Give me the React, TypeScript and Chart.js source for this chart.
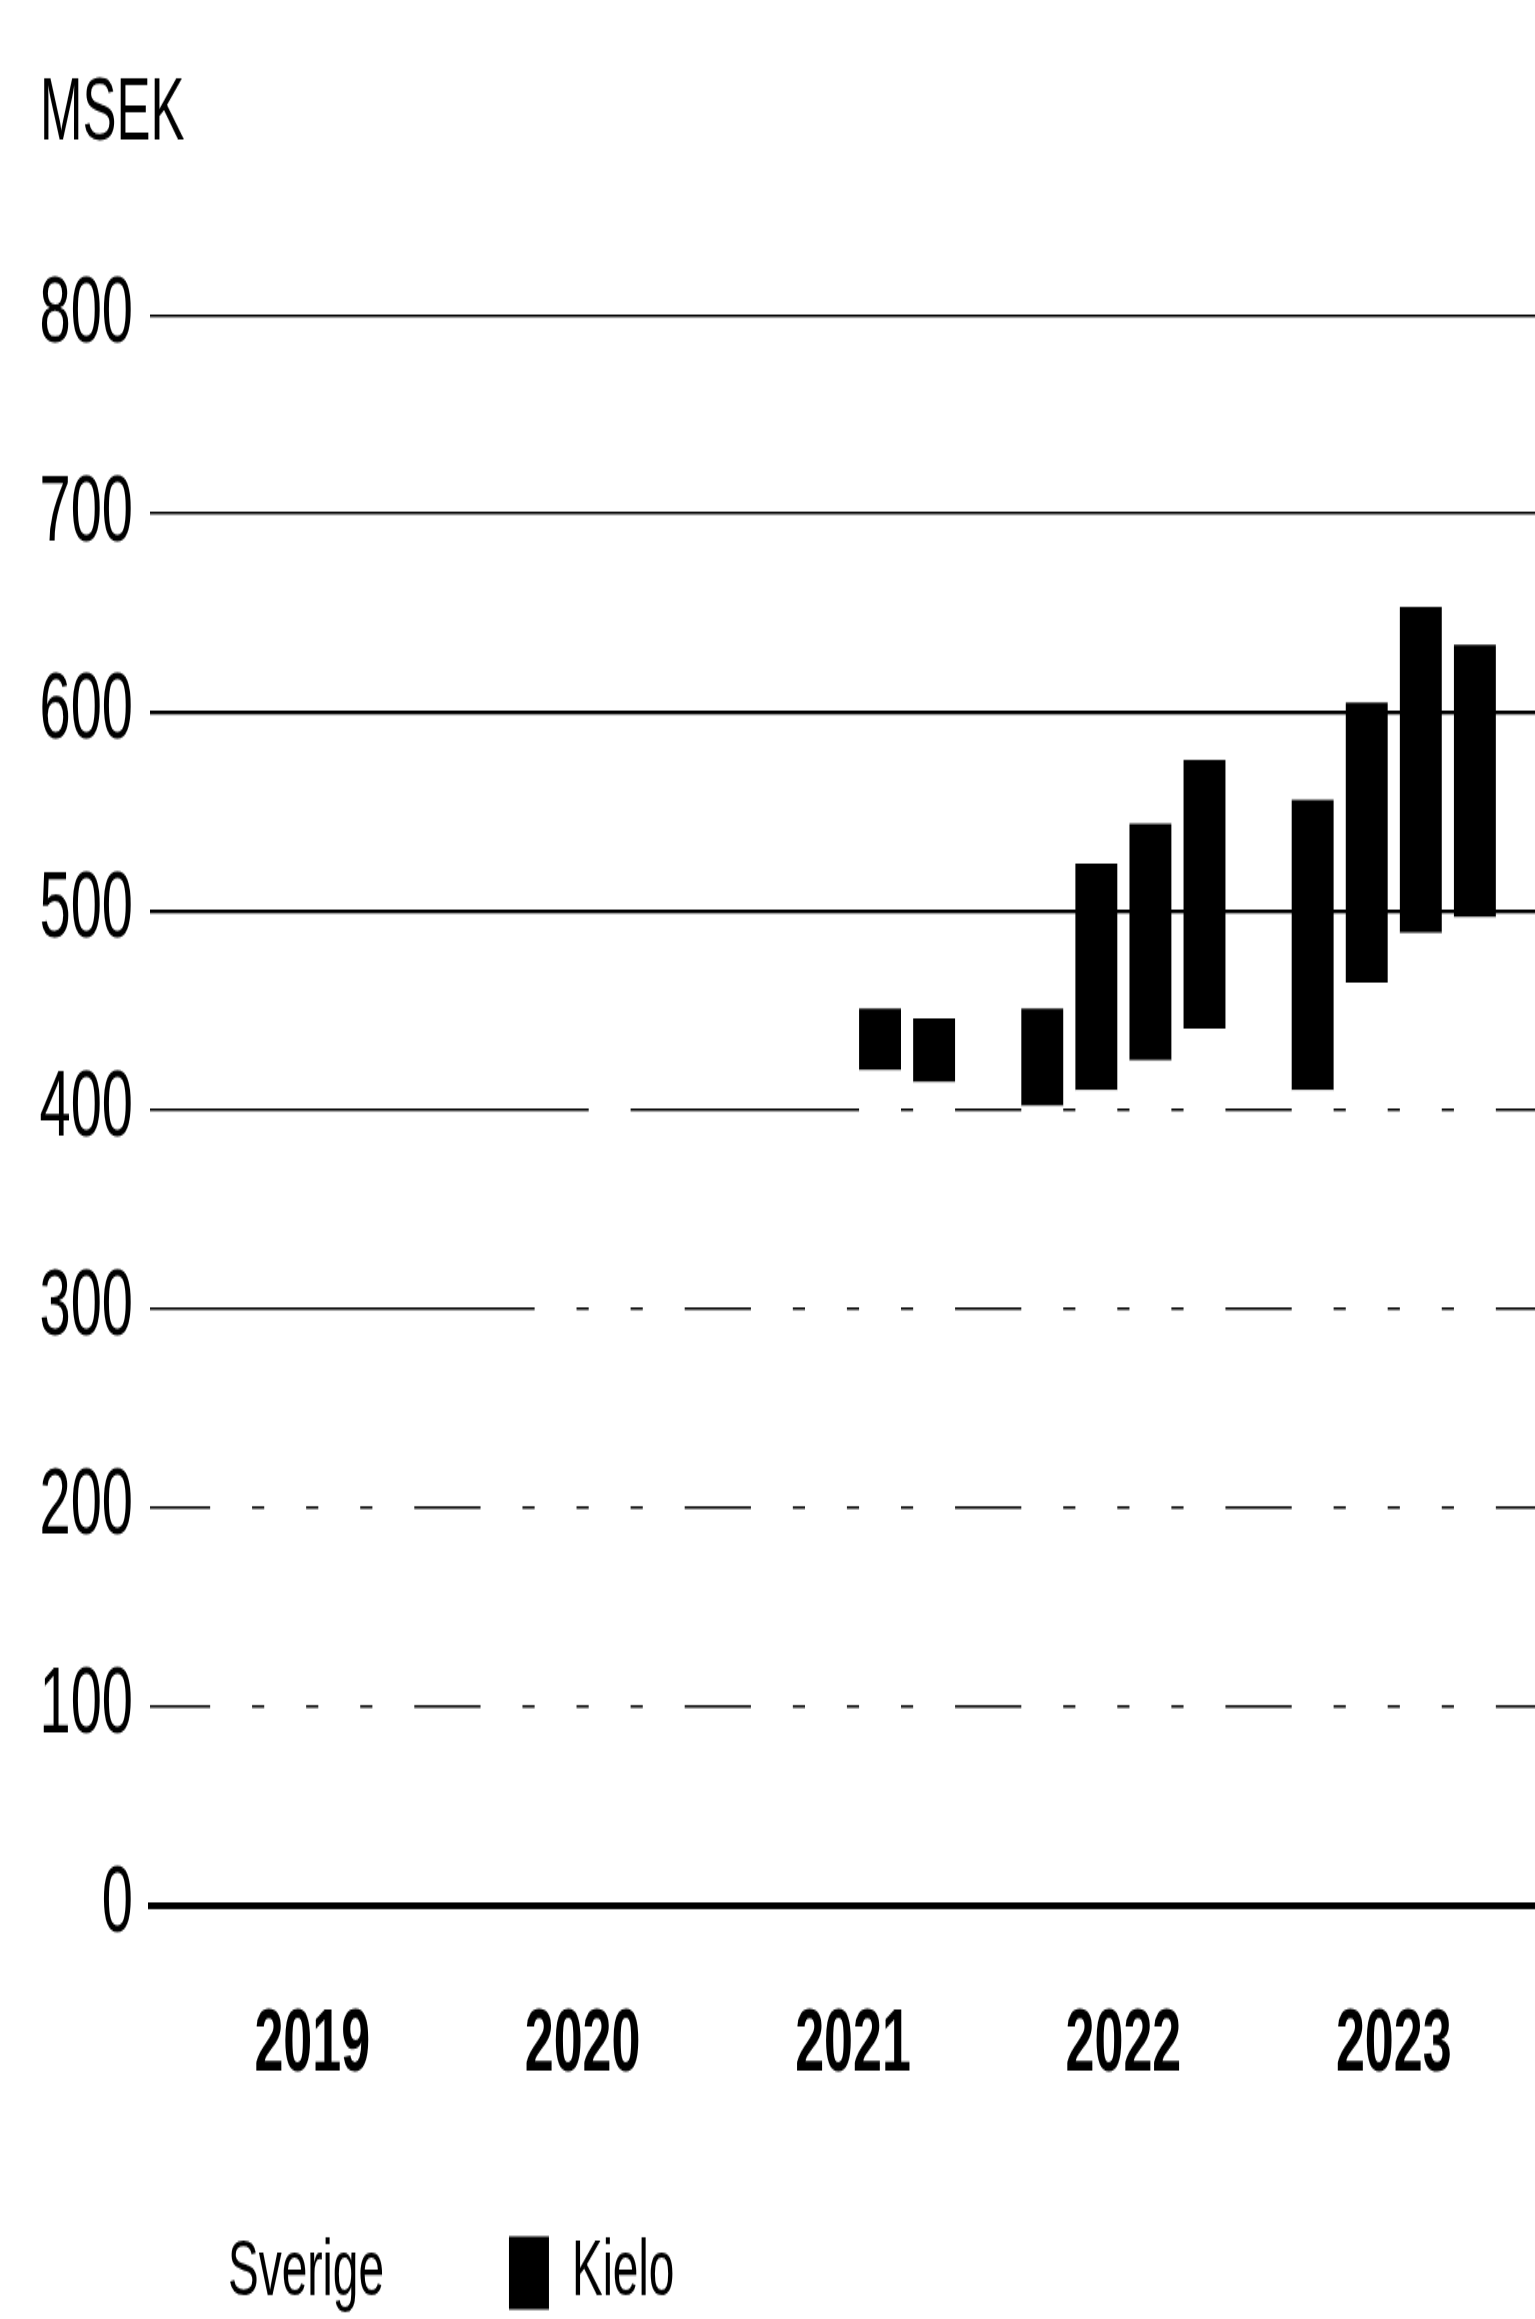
import React, { useEffect, useRef } from 'react';
import { Chart, registerables } from 'chart.js';

Chart.register(...registerables);

// ---- data ----
const years = ['2019', '2020', '2021', '2022', '2023'];
const seriesNames = ['Sverige', 'Kielo'];
const unitLabel = 'MSEK';
// quarterly values, 2019 Q1 .. 2023 Q4
const sverige = [
  262, 268, 274, 281,
  279, 338, 412, 372,
  356, 388, 420, 414,
  402, 410, 425, 441,
  410, 464, 489, 497,
];
const kielo = [
  null, null, null, null,
  null, null, null, null,
  null, null, 31, 32,
  49, 114, 119, 135,
  146, 141, 164, 137,
];
const yMin = 0;
const yMax = 800;
const yStep = 100;

// ---- layout constants ----
const QUARTERS = 4;
const SLOTS_PER_YEAR = QUARTERS + 1; // one empty slot between years
const W = 1580;
const H = 1370;
const STRETCH = 1.7;
const FONT = '"Liberation Sans", Arial, Helvetica, sans-serif';

const slotOf = (i: number) => Math.floor(i / QUARTERS) * SLOTS_PER_YEAR + (i % QUARTERS) + 1;
const toPoints = (arr: (number | null)[]) => arr.map((v, i) => ({ x: slotOf(i), y: v }));
const yearCenter = (i: number) => i * SLOTS_PER_YEAR + (QUARTERS + 1) / 2;

export default function App() {
  const ref = useRef<HTMLCanvasElement | null>(null);

  useEffect(() => {
    if (!ref.current) return;
    Chart.defaults.font.family = FONT;
    const chart = new Chart(ref.current, {
      type: 'bar',
      data: {
        datasets: [
          {
            label: seriesNames[0],
            data: toPoints(sverige) as any,
            backgroundColor: '#ffffff',
            borderWidth: 0,
            categoryPercentage: 1,
            barPercentage: 0.775,
          },
          {
            label: seriesNames[1],
            data: toPoints(kielo) as any,
            backgroundColor: '#000000',
            borderWidth: 0,
            categoryPercentage: 1,
            barPercentage: 0.775,
          },
        ],
      },
      options: {
        animation: false,
        responsive: false,
        devicePixelRatio: 1,
        layout: { padding: { left: 40, right: 24, top: 0, bottom: 0 } },
        plugins: {
          title: {
            display: true,
            text: unitLabel,
            align: 'start',
            color: '#000',
            font: { size: 51, weight: 'normal' },
            padding: { top: 37.5, bottom: 86.5 },
          },
          legend: {
            position: 'bottom',
            align: 'start',
            labels: {
              color: '#000',
              font: { size: 46 },
              boxWidth: 40,
              boxHeight: 43,
              padding: 125,
            },
          },
          tooltip: { enabled: false },
        },
        scales: {
          x: {
            type: 'linear',
            stacked: true,
            offset: false,
            min: -0.5,
            max: years.length * SLOTS_PER_YEAR + 0.5,
            grid: { display: false, drawTicks: false, offset: false },
            border: { display: true, color: '#000', width: 4, z: 1 },
            afterBuildTicks: (axis: any) => {
              axis.ticks = years.map((_, i) => ({ value: yearCenter(i) }));
            },
            afterFit: (axis: any) => {
              axis.height = 68.4;
            },
            ticks: {
              autoSkip: false,
              maxRotation: 0,
              mirror: true,
              padding: -114,
              color: '#000',
              font: { size: 52, weight: 'bold' },
              callback: (v: any) => years[Math.round((Number(v) - yearCenter(0)) / SLOTS_PER_YEAR)] ?? '',
            },
          },
          y: {
            stacked: true,
            min: yMin,
            max: yMax,
            afterFit: (axis: any) => {
              axis.width = 110;
            },
            ticks: {
              stepSize: yStep,
              padding: 17,
              color: '#000',
              font: { size: 56 },
            },
            grid: {
              color: (ctx: any) => (ctx.tick && ctx.tick.value === 0 ? 'rgba(0,0,0,0)' : '#000'),
              lineWidth: (ctx: any) => (ctx.tick && (ctx.tick.value === 500 || ctx.tick.value === 600) ? 2.2 : 1.4),
              drawTicks: false,
            },
            border: { display: false },
          },
        },
      } as any,
    });
    return () => chart.destroy();
  }, []);

  return (
    <div style={{ position: 'absolute', left: 0, top: 0, width: 1535, height: 2319, overflow: 'hidden', background: '#fff' }}>
      <canvas
        ref={ref}
        width={W}
        height={H}
        style={{ display: 'block', width: W + 'px', height: H * STRETCH + 'px' }}
      />
    </div>
  );
}
